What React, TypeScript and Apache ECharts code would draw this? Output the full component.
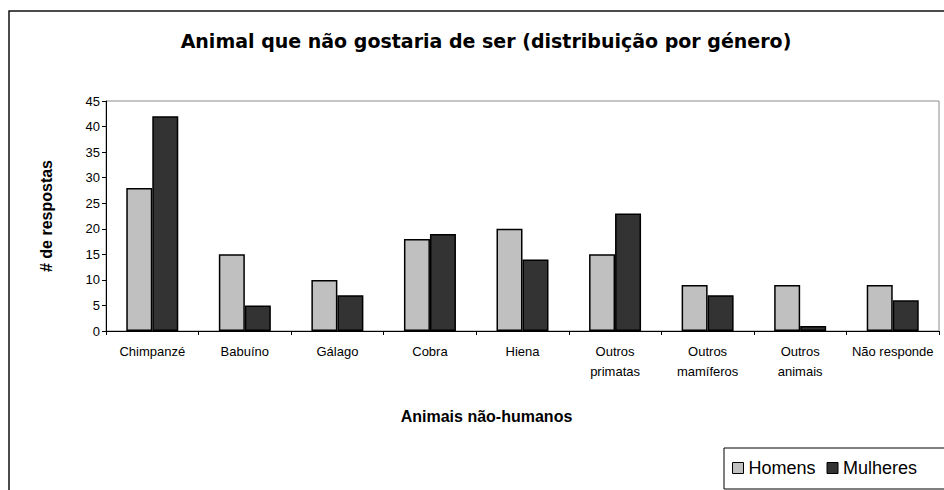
import React, { useEffect, useRef } from "react";
import * as echarts from "echarts";

const categories = [
  "Chimpanzé",
  "Babuíno",
  "Gálago",
  "Cobra",
  "Hiena",
  "Outros\nprimatas",
  "Outros\nmamíferos",
  "Outros\nanimais",
  "Não responde",
];
const homens = [28, 15, 10, 18, 20, 15, 9, 9, 9];
const mulheres = [42, 5, 7, 19, 14, 23, 7, 1, 6];
const seriesNames = ["Homens", "Mulheres"];
const titleText = "Animal que não gostaria de ser (distribuição por género)";
const yName = "# de respostas";
const xName = "Animais não-humanos";

const FONT = "'Liberation Sans', Arial, sans-serif";

export default function App() {
  const ref = useRef<HTMLDivElement>(null);
  useEffect(() => {
    if (!ref.current) return;
    const chart = echarts.init(ref.current, undefined, { renderer: "svg" });
    chart.setOption({
      animation: false,
      backgroundColor: "#ffffff",
      textStyle: { fontFamily: FONT, color: "#000" },
      graphic: [
        {
          type: "rect",
          shape: { x: 9, y: 11, width: 1000, height: 600 },
          style: { fill: "none", stroke: "#111", lineWidth: 1.5 },
          silent: true,
          z: -10,
        },
        {
          type: "text",
          x: 486,
          y: 41,
          style: {
            text: titleText,
            font: `bold 19px 'DejaVu Sans', ${FONT}`,
            fill: "#000",
            align: "center",
            verticalAlign: "middle",
            textAlign: "center",
            textVerticalAlign: "middle",
          },
        },
      ],
      grid: {
        left: 106,
        right: 5,
        top: 101,
        bottom: 159,
        show: true,
        borderColor: "#8c8c8c",
        borderWidth: 1,
        backgroundColor: "transparent",
      },
      legend: {
        orient: "horizontal",
        left: 724,
        top: 448,
        width: 400,
        data: seriesNames,
        icon: "rect",
        itemWidth: 11,
        itemHeight: 11,
        itemGap: 11,
        borderColor: "#000",
        borderWidth: 1,
        padding: [11, 40, 12, 8],
        textStyle: { fontSize: 18, fontFamily: FONT, color: "#000" },
        itemStyle: { borderColor: "#000", borderWidth: 1 },
      },
      xAxis: {
        type: "category",
        data: categories,
        boundaryGap: true,
        name: xName,
        nameLocation: "middle",
        nameGap: 77,
        nameTextStyle: {
          fontSize: 16,
          fontWeight: "bold",
          fontFamily: FONT,
          color: "#000",
          padding: [0, 72, 0, 0],
        },
        axisLine: { show: true, lineStyle: { color: "#000", width: 1 } },
        axisTick: { show: true, length: 4, alignWithLabel: false, lineStyle: { color: "#000" } },
        axisLabel: {
          interval: 0,
          fontSize: 13,
          lineHeight: 20,
          margin: 10,
          color: "#000",
          fontFamily: FONT,
        },
        splitLine: { show: false },
      },
      yAxis: {
        type: "value",
        min: 0,
        max: 45,
        interval: 5,
        name: yName,
        nameLocation: "middle",
        nameGap: 52,
        nameRotate: 90,
        nameTextStyle: { fontSize: 16, fontWeight: "bold", fontFamily: FONT, color: "#000" },
        axisLine: { show: true, lineStyle: { color: "#000", width: 1 } },
        axisTick: { show: true, length: 4, lineStyle: { color: "#000" } },
        axisLabel: { fontSize: 13, margin: 6, color: "#000", fontFamily: FONT },
        splitLine: { show: false },
      },
      series: [
        {
          name: seriesNames[0],
          type: "bar",
          data: homens,
          barWidth: 26,
          barGap: "0%",
          itemStyle: { color: "#c0c0c0", borderColor: "#000", borderWidth: 1.5 },
        },
        {
          name: seriesNames[1],
          type: "bar",
          data: mulheres,
          barWidth: 26,
          barGap: "0%",
          itemStyle: { color: "#333333", borderColor: "#000", borderWidth: 1.5 },
        },
      ],
    });
    return () => chart.dispose();
  }, []);
  return (
    <div
      ref={ref}
      style={{ position: "fixed", left: 0, top: 0, width: 944, height: 490 }}
    />
  );
}
